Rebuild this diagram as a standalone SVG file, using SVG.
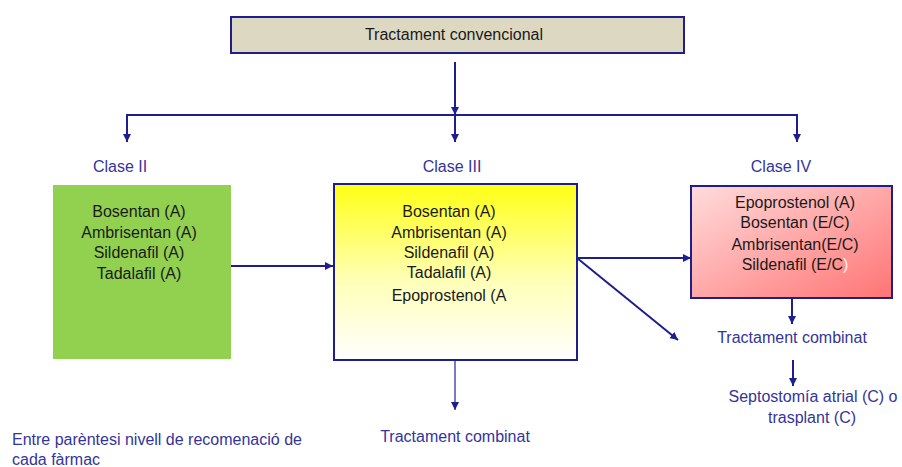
<svg xmlns="http://www.w3.org/2000/svg" width="902" height="467" viewBox="0 0 902 467">
<defs>
<style>
text{font-family:"Liberation Sans",Arial,sans-serif;font-size:16px;}
.c{text-anchor:middle;}
.k{fill:#1a1a1a;}
.b{fill:#34349c;}
.ln{fill:none;stroke:#1e1e8e;stroke-width:2;}
.bx{stroke:#1e1e8e;stroke-width:2;}
</style>
<marker id="ah" markerUnits="userSpaceOnUse" markerWidth="9" markerHeight="8" refX="8" refY="4" orient="auto">
<path d="M0,0 L8,4 L0,8 z" fill="#1e1e8e"/>
</marker>
<linearGradient id="gy" x1="0" y1="0" x2="0" y2="1">
<stop offset="0" stop-color="#ffff14"/>
<stop offset="0.55" stop-color="#ffffb8"/>
<stop offset="1" stop-color="#ffffff"/>
</linearGradient>
<linearGradient id="gp" x1="0" y1="0" x2="1" y2="1">
<stop offset="0" stop-color="#ffdcdc"/>
<stop offset="1" stop-color="#ff7474"/>
</linearGradient>
</defs>
<rect width="902" height="467" fill="#ffffff"/>

<g id="connectors">
<line class="ln" x1="455" y1="62" x2="455" y2="115" marker-end="url(#ah)"/>
<polyline class="ln" points="127,142 127,115 797,115 797,142" marker-end="url(#ah)"/>
<line class="ln" x1="127" y1="115" x2="127" y2="142" marker-end="url(#ah)"/>
<line class="ln" x1="455" y1="115" x2="455" y2="142" marker-end="url(#ah)"/>
<line class="ln" x1="231" y1="266" x2="333" y2="266" marker-end="url(#ah)"/>
<line class="ln" x1="577" y1="258" x2="691" y2="258" marker-end="url(#ah)"/>
<line class="ln" x1="577" y1="258" x2="678" y2="340" marker-end="url(#ah)"/>
<line class="ln" x1="455" y1="361" x2="455" y2="410" style="stroke:#7a7ac4" marker-end="url(#ah)"/>
<line class="ln" x1="792" y1="298" x2="792" y2="324" marker-end="url(#ah)"/>
<line class="ln" x1="793" y1="360" x2="793" y2="386" marker-end="url(#ah)"/>
</g>

<g id="node-top">
<rect class="bx" x="231" y="17" width="453" height="36" fill="#ddd8c2"/>
<text class="c k" x="454" y="40">Tractament convencional</text>
</g>

<g id="label-clase2"><text class="c b" x="120" y="172">Clase II</text></g>
<g id="label-clase3"><text class="c b" x="452" y="172">Clase III</text></g>
<g id="label-clase4"><text class="c b" x="781" y="172">Clase IV</text></g>

<g id="node-clase2">
<rect x="53" y="185" width="178" height="174" fill="#92d050"/>
<text class="c k" x="139" y="217">Bosentan (A)</text>
<text class="c k" x="139" y="238">Ambrisentan (A)</text>
<text class="c k" x="139" y="258">Sildenafil (A)</text>
<text class="c k" x="139" y="279">Tadalafil (A)</text>
</g>

<g id="node-clase3">
<rect class="bx" x="334" y="184" width="243" height="176" fill="url(#gy)"/>
<text class="c k" x="449" y="217">Bosentan (A)</text>
<text class="c k" x="449" y="238">Ambrisentan (A)</text>
<text class="c k" x="449" y="258">Sildenafil (A)</text>
<text class="c k" x="449" y="278">Tadalafil (A)</text>
<text class="c k" x="449" y="301">Epoprostenol (A</text>
</g>

<g id="node-clase4">
<rect class="bx" x="691" y="186" width="201" height="112" fill="url(#gp)"/>
<text class="c k" x="795" y="208">Epoprostenol (A)</text>
<text class="c k" x="795" y="228">Bosentan (E/C)</text>
<text class="c k" x="795" y="250">Ambrisentan(E/C)</text>
<text class="c k" x="795" y="270">Sildenafil (E/C<tspan fill="#fff0f0">)</tspan></text>
</g>

<g id="node-combinat4"><text class="c b" x="792" y="343">Tractament combinat</text></g>
<g id="node-septostomia">
<text class="c b" x="813" y="402">Septostomía atrial (C) o</text>
<text class="c b" x="812" y="423">trasplant (C)</text>
</g>
<g id="node-combinat3"><text class="c b" x="455" y="442">Tractament combinat</text></g>
<g id="note">
<text class="b" x="12" y="445">Entre parèntesi nivell de recomenació de</text>
<text class="b" x="12" y="465">cada fàrmac</text>
</g>
</svg>
